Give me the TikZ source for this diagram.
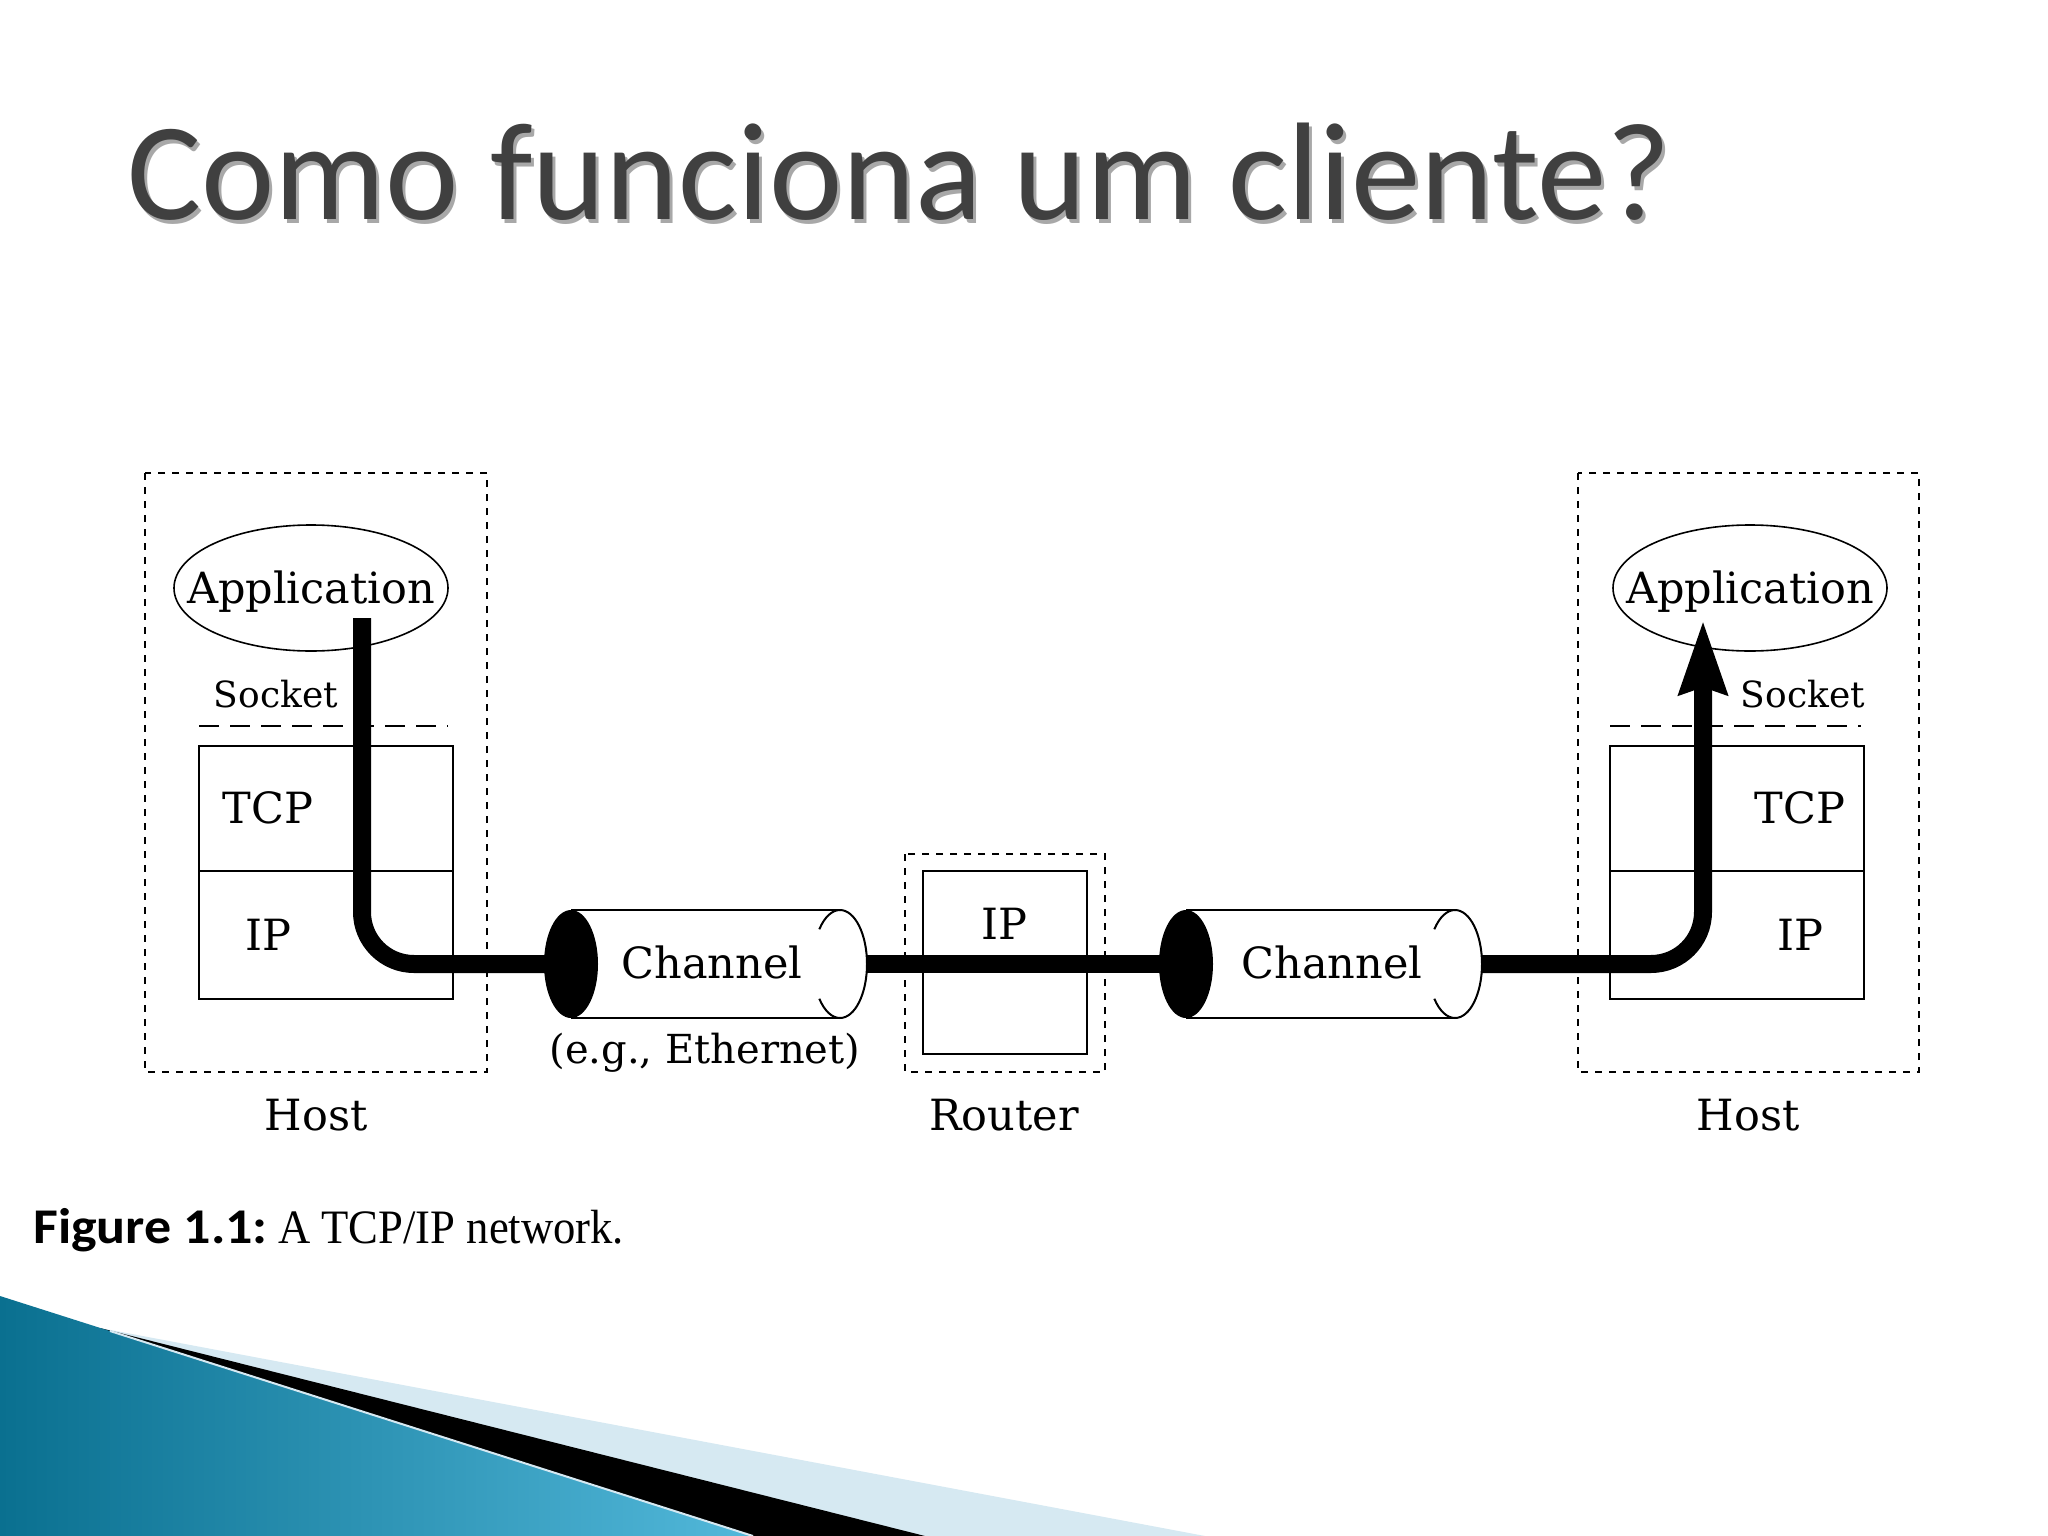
\documentclass[tikz,border=0pt]{standalone}
\usepackage{fontspec}
\setmainfont{Liberation Serif}
\newfontfamily\titlefont{Carlito}
\newfontfamily\dgfont{DejaVu Serif}
\newfontfamily\capsans{Carlito}
\usetikzlibrary{shapes.geometric,arrows.meta}
\definecolor{titlegray}{HTML}{404040}
\definecolor{shadowgray}{HTML}{A8A8A8}
\definecolor{lightband}{HTML}{D6E9F2}
\definecolor{bluedark}{HTML}{0A7090}
\definecolor{bluelight}{HTML}{52B8DA}
\begin{document}
\begin{tikzpicture}[x=1pt,y=-1pt,
  dgtext/.style={font=\dgfont\fontsize{43}{50}\selectfont, inner sep=0pt, anchor=base},
  smalltext/.style={font=\dgfont\fontsize{36}{42}\selectfont, inner sep=0pt, anchor=base},
  hostbox/.style={draw, line width=2pt, dash pattern=on 7pt off 7pt},
  layerbox/.style={draw, line width=2pt},
  socketline/.style={draw, line width=2pt, dash pattern=on 20pt off 11pt},
  appell/.style={draw, ellipse, line width=1.6pt, minimum width=274pt, minimum height=126pt, inner sep=0pt},
  pipe/.style={line width=18pt, rounded corners=52pt},
  tubeline/.style={line width=2pt},
]
% canvas
\fill[white] (0,0) rectangle (2048,1536);
\useasboundingbox (0,0) rectangle (2048,1536);

% bottom-left swoosh
\fill[lightband] (100,1328) -- (1205,1536) -- (0,1536) -- cycle;
\fill[black] (100,1328) -- (925,1536) -- (0,1536) -- cycle;
\shade[left color=bluedark, right color=bluelight] (0,1296) -- (753,1536) -- (0,1536) -- cycle;
\draw[lightband, line width=2pt] (110,1331) -- (753,1536);

% title
\node[anchor=base west, inner sep=0pt, font=\titlefont\fontsize{139}{160}\selectfont, text=shadowgray] (titleshadow) at (130,223) {Como funciona um cliente?};
\node[anchor=base west, inner sep=0pt, font=\titlefont\fontsize{139}{160}\selectfont, text=titlegray] (title) at (127,219) {Como funciona um cliente?};

% ---- left host ----
\draw[hostbox] (145,473) rectangle (487,1072);
\node[appell] (app1) at (311,588) {};
\node[dgtext] (app1t) at (311,603) {Application};
\node[smalltext] (sock1) at (276,707) {Socket};
\draw[socketline] (199,726) -- (448,726);
\draw[layerbox] (199,746) rectangle (453,999);
\draw[layerbox] (199,871) -- (453,871);
\node[dgtext] (tcp1) at (268,823) {TCP};
\node[dgtext] (ip1) at (268,950) {IP};
\node[dgtext] (host1) at (316,1130) {Host};

% ---- right host ----
\draw[hostbox] (1578,473) rectangle (1919,1072);
\node[appell] (app2) at (1750,588) {};
\node[dgtext] (app2t) at (1750,603) {Application};
\node[smalltext] (sock2) at (1803,707) {Socket};
\draw[socketline] (1610,726) -- (1861,726);
\draw[layerbox] (1610,746) rectangle (1864,999);
\draw[layerbox] (1610,871) -- (1864,871);
\node[dgtext] (tcp2) at (1800,823) {TCP};
\node[dgtext] (ip2) at (1800,950) {IP};
\node[dgtext] (host2) at (1748,1130) {Host};

% ---- router ----
\draw[hostbox] (905,854) rectangle (1105,1072);
\draw[layerbox] (923,871) rectangle (1087,1054);
\node[dgtext] (ipr) at (1004,939) {IP};
\node[dgtext] (router) at (1004,1130) {Router};

% ---- channels ----
\coordinate (c1L) at (571,964);
\coordinate (c1R) at (840,964);
\coordinate (c2L) at (1186,964);
\coordinate (c2R) at (1455,964);
\coordinate (c1E) at (867,964);
\coordinate (c2E) at (1482,964);

% channel 1 body
\draw[tubeline] (571,910) -- (840,910);
\draw[tubeline] (571,1018) -- (840,1018);
\draw[tubeline] (840,910) arc[start angle=90, end angle=-90, x radius=27pt, y radius=54pt];
\draw[tubeline] (840,910) arc[start angle=90, end angle=140, x radius=27pt, y radius=54pt];
\draw[tubeline] (840,1018) arc[start angle=270, end angle=220, x radius=27pt, y radius=54pt];
\fill[black] (c1L) ellipse[x radius=27pt, y radius=54pt];
\node[dgtext] (ch1) at (712,978) {Channel};
\node[dgtext, font=\dgfont\fontsize{40}{46}\selectfont] (eth) at (705,1063) {(e.g., Ethernet)};

% channel 2 body
\draw[tubeline] (1186,910) -- (1455,910);
\draw[tubeline] (1186,1018) -- (1455,1018);
\draw[tubeline] (1455,910) arc[start angle=90, end angle=-90, x radius=27pt, y radius=54pt];
\draw[tubeline] (1455,910) arc[start angle=90, end angle=140, x radius=27pt, y radius=54pt];
\draw[tubeline] (1455,1018) arc[start angle=270, end angle=220, x radius=27pt, y radius=54pt];
\fill[black] (c2L) ellipse[x radius=27pt, y radius=54pt];
\node[dgtext] (ch2) at (1332,978) {Channel};

% ---- data path ----
\coordinate (s1) at (362,618);
\coordinate (tip) at (1703,620);
\draw[pipe] (s1) |- (c1L);
\draw[line width=18pt] (c1E) -- (c2L);
\draw[pipe, -{Stealth[length=73pt, width=46pt, inset=6pt]}] (c2E) -| (tip);

% ---- caption ----
\node[anchor=base west, inner sep=0pt, xscale=1.08, font=\capsans\bfseries\fontsize{50}{56}\selectfont] (figlbl) at (33,1243) {Figure 1.1:};
\node[anchor=base west, inner sep=0pt, xscale=0.93, font=\fontsize{48}{54}\selectfont] (figtxt) at (278,1243) {A TCP/IP network.};
\end{tikzpicture}
\end{document}
